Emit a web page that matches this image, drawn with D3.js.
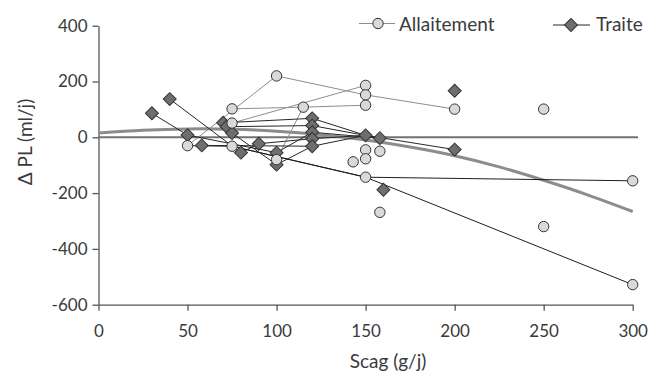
<!DOCTYPE html>
<html>
<head>
<meta charset="utf-8">
<script src="https://cdn.jsdelivr.net/npm/d3@7"></script>
<style>
  html, body { margin: 0; padding: 0; background: #fff; }
  svg { display: block; }
  text { font-family: Lato, "Open Sans", sans-serif; fill: #3a3a3a; }
</style>
</head>
<body>
<svg id="chart" width="648" height="374"></svg>
<script>
// ---------- data ----------
const xTicks = [0, 50, 100, 150, 200, 250, 300];
const yTicks = [-600, -400, -200, 0, 200, 400];

// Allaitement (circles)
const allaitementX = [50, 75, 75, 75, 100, 100, 115, 143, 150, 150, 150, 150, 150, 150, 158, 158, 200, 250, 250, 300, 300];
const allaitementY = [-30, 102, 51, -32, 220, -80, 108, -88, 186, 152, 115, -45, -77, -143, -50, -269, 101, 101, -320, -156, -528];
// connecting lines (indices into the arrays above)
const allaitementGrayLines = [[0, 4], [4, 9, 16], [1, 6, 10], [2, 8], [5, 6]];
const allaitementBlackLines = [[0, 3, 13, 19], [3, 13, 20]];

// Traite (diamonds)
const traiteX = [30, 40, 50, 58, 70, 72, 75, 80, 90, 100, 100, 120, 120, 120, 120, 120, 150, 158, 160, 200, 200];
const traiteY = [86, 137, 8, -29, 52, 38, 15, -55, -23, -55, -98, 68, 42, 18, -5, -32, 7, -3, -188, 167, -44];
const traiteLines = [[0, 2, 9, 13, 17], [1, 7, 8, 14, 16, 20], [3, 15, 16], [4, 11, 16], [5, 12, 17], [6, 10, 15]];

// trend curve
const trendX = [0, 25, 50, 75, 100, 125, 150, 175, 200, 225, 250, 275, 300];
const trendY = [15, 25, 30, 29, 22, 9, -10, -35, -66, -106, -154, -207, -266];

const seriesNames = ["Allaitement", "Traite"];
const xLabel = "Scag (g/j)";
const yLabel = "\u0394 PL (ml/j)";

// ---------- layout ----------
const svg = d3.select("#chart");
const x = d3.scaleLinear().domain([0, 300]).range([98.5, 632.7]);
const y = d3.scaleLinear().domain([-600, 400]).range([304.7, 25.7]);

const axisColor = "#555";
const fmt = d => String(d);

// y axis
const gy = svg.append("g").attr("transform", `translate(${x(0)},0)`)
  .call(d3.axisLeft(y).tickValues(yTicks).tickFormat(fmt).tickSize(6).tickSizeOuter(0).tickPadding(5));
// x axis
const gx = svg.append("g").attr("transform", `translate(0,${y(-600)})`)
  .call(d3.axisBottom(x).tickValues(xTicks).tickFormat(fmt).tickSize(6).tickSizeOuter(0).tickPadding(14));
[gx, gy].forEach(g => {
  g.select(".domain").attr("stroke", axisColor).attr("stroke-width", 1.3);
  g.selectAll(".tick line").attr("stroke", axisColor).attr("stroke-width", 1.3);
  g.selectAll(".tick text").style("font-size", "17px").attr("fill", "#3a3a3a")
    .style("font-family", "Lato, 'Open Sans', sans-serif");
});

// zero line
svg.append("line")
  .attr("x1", x(0)).attr("x2", x(303))
  .attr("y1", y(0)).attr("y2", y(0))
  .attr("stroke", "#727272").attr("stroke-width", 2);

// trend curve
svg.append("path")
  .datum(trendX.map((d, i) => [d, trendY[i]]))
  .attr("fill", "none").attr("stroke", "#8c8c8c").attr("stroke-width", 3)
  .attr("d", d3.line().x(d => x(d[0])).y(d => y(d[1])).curve(d3.curveNatural));

const line = d3.line().x(d => x(d[0])).y(d => y(d[1]));

function drawLines(groups, xs, ys, color) {
  svg.append("g").selectAll("path").data(groups).join("path")
    .attr("fill", "none").attr("stroke", color).attr("stroke-width", 1)
    .attr("d", g => line(g.map(i => [xs[i], ys[i]])));
}
drawLines(allaitementGrayLines, allaitementX, allaitementY, "#8e8e8e");
drawLines(allaitementBlackLines, allaitementX, allaitementY, "#1e1e1e");
drawLines(traiteLines, traiteX, traiteY, "#262626");

const diamond = d3.symbol().type(d3.symbolSquare).size(84);

// diamonds
svg.append("g").selectAll("path").data(traiteX.map((d, i) => [d, traiteY[i]])).join("path")
  .attr("d", diamond)
  .attr("transform", d => `translate(${x(d[0])},${y(d[1])}) rotate(45)`)
  .attr("fill", "#6e6e6e").attr("stroke", "#333").attr("stroke-width", 1);

// circles
svg.append("g").selectAll("circle").data(allaitementX.map((d, i) => [d, allaitementY[i]])).join("circle")
  .attr("cx", d => x(d[0])).attr("cy", d => y(d[1])).attr("r", 5.2)
  .attr("fill", "#d9d9d9").attr("stroke", "#333").attr("stroke-width", 1);

// legend
const leg = svg.append("g");
leg.append("line").attr("x1", 359).attr("x2", 395).attr("y1", 23.5).attr("y2", 23.5)
  .attr("stroke", "#8e8e8e").attr("stroke-width", 1);
leg.append("circle").attr("cx", 378).attr("cy", 23.5).attr("r", 5.2)
  .attr("fill", "#d9d9d9").attr("stroke", "#333");
leg.append("text").attr("x", 399).attr("y", 24).attr("dy", "0.35em")
  .style("font-size", "19px").text(seriesNames[0]);
leg.append("line").attr("x1", 553).attr("x2", 590).attr("y1", 25).attr("y2", 25)
  .attr("stroke", "#262626").attr("stroke-width", 1);
leg.append("path").attr("d", diamond).attr("transform", "translate(571,25) rotate(45)")
  .attr("fill", "#6e6e6e").attr("stroke", "#333");
leg.append("text").attr("x", 596).attr("y", 24).attr("dy", "0.35em")
  .style("font-size", "19px").text(seriesNames[1]);

// axis titles
svg.append("text").attr("x", 388).attr("y", 361).attr("dy", "0.35em")
  .attr("text-anchor", "middle").style("font-size", "19px").text(xLabel);
svg.append("text").attr("transform", "translate(25,142) rotate(-90)").attr("dy", "0.35em")
  .attr("text-anchor", "middle").style("font-size", "19px").text(yLabel);
</script>
</body>
</html>
